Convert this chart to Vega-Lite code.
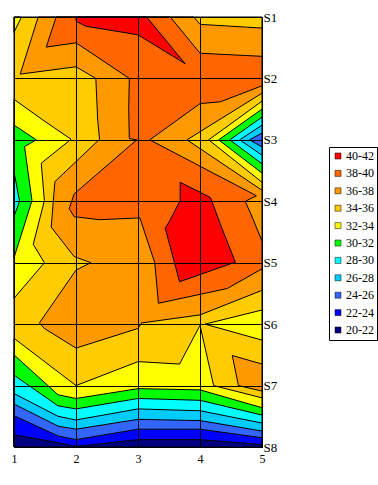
{
  "$schema": "https://vega.github.io/schema/vega-lite/v6.json",
  "width": 248,
  "height": 430,
  "autosize": "none",
  "padding": {"left": 14, "top": 17, "right": 116, "bottom": 38},
  "background": "white",
  "config": {"view": {"stroke": "black", "strokeWidth": 1}},
  "data": {"values": [
    {"band":"34-36","p":"base","i":0,"x":1,"y":1},{"band":"34-36","p":"base","i":1,"x":5,"y":1},{"band":"34-36","p":"base","i":2,"x":5,"y":8},{"band":"34-36","p":"base","i":3,"x":1,"y":8},{"band":"34-36","p":"base","i":4,"x":1,"y":1},

    {"band":"36-38","p":"o36a","i":0,"x":1.39,"y":1},{"band":"36-38","p":"o36a","i":1,"x":3.90,"y":1},{"band":"36-38","p":"o36a","i":2,"x":4.0,"y":1.12},{"band":"36-38","p":"o36a","i":3,"x":5,"y":1.18},{"band":"36-38","p":"o36a","i":4,"x":5,"y":2.24},{"band":"36-38","p":"o36a","i":5,"x":3.79,"y":3},{"band":"36-38","p":"o36a","i":6,"x":5,"y":3.82},{"band":"36-38","p":"o36a","i":7,"x":5,"y":5.45},{"band":"36-38","p":"o36a","i":8,"x":4.0,"y":5.85},{"band":"36-38","p":"o36a","i":9,"x":3.06,"y":5.98},{"band":"36-38","p":"o36a","i":10,"x":3.0,"y":6.07},{"band":"36-38","p":"o36a","i":11,"x":2.0,"y":6.39},{"band":"36-38","p":"o36a","i":12,"x":1.49,"y":6.07},{"band":"36-38","p":"o36a","i":13,"x":1.41,"y":5.98},{"band":"36-38","p":"o36a","i":14,"x":2.0,"y":5.12},{"band":"36-38","p":"o36a","i":15,"x":2.24,"y":5.0},{"band":"36-38","p":"o36a","i":16,"x":1.97,"y":4.90},{"band":"36-38","p":"o36a","i":17,"x":1.60,"y":4.42},{"band":"36-38","p":"o36a","i":18,"x":1.66,"y":3.68},{"band":"36-38","p":"o36a","i":19,"x":2.38,"y":2.99},{"band":"36-38","p":"o36a","i":20,"x":2.35,"y":2.68},{"band":"36-38","p":"o36a","i":21,"x":2.32,"y":2.0},{"band":"36-38","p":"o36a","i":22,"x":2.0,"y":1.81},{"band":"36-38","p":"o36a","i":23,"x":1.10,"y":1.93},{"band":"36-38","p":"o36a","i":24,"x":1.39,"y":1},
    {"band":"36-38","p":"o36b","i":0,"x":4.52,"y":6.51},{"band":"36-38","p":"o36b","i":1,"x":5,"y":6.65},{"band":"36-38","p":"o36b","i":2,"x":5,"y":7.09},{"band":"36-38","p":"o36b","i":3,"x":4.62,"y":7.0},{"band":"36-38","p":"o36b","i":4,"x":4.52,"y":6.51},

    {"band":"38-40","p":"o38","i":0,"x":1.68,"y":1},{"band":"38-40","p":"o38","i":1,"x":3.52,"y":1},{"band":"38-40","p":"o38","i":2,"x":4.0,"y":1.59},{"band":"38-40","p":"o38","i":3,"x":5,"y":1.64},{"band":"38-40","p":"o38","i":4,"x":5,"y":2.12},{"band":"38-40","p":"o38","i":5,"x":4.33,"y":2.38},{"band":"38-40","p":"o38","i":6,"x":4.0,"y":2.41},{"band":"38-40","p":"o38","i":7,"x":3.19,"y":3.0},{"band":"38-40","p":"o38","i":8,"x":4.91,"y":3.91},{"band":"38-40","p":"o38","i":9,"x":4.73,"y":4.0},{"band":"38-40","p":"o38","i":10,"x":4.86,"y":4.30},{"band":"38-40","p":"o38","i":11,"x":5,"y":4.65},{"band":"38-40","p":"o38","i":12,"x":5,"y":5.10},{"band":"38-40","p":"o38","i":13,"x":4.44,"y":5.42},{"band":"38-40","p":"o38","i":14,"x":3.33,"y":5.66},{"band":"38-40","p":"o38","i":15,"x":3.27,"y":5.0},{"band":"38-40","p":"o38","i":16,"x":3.03,"y":4.27},{"band":"38-40","p":"o38","i":17,"x":2.38,"y":4.30},{"band":"38-40","p":"o38","i":18,"x":1.97,"y":4.25},{"band":"38-40","p":"o38","i":19,"x":1.89,"y":4.12},{"band":"38-40","p":"o38","i":20,"x":1.97,"y":3.88},{"band":"38-40","p":"o38","i":21,"x":2.98,"y":3.0},{"band":"38-40","p":"o38","i":22,"x":2.86,"y":2.98},{"band":"38-40","p":"o38","i":23,"x":2.85,"y":2.51},{"band":"38-40","p":"o38","i":24,"x":2.86,"y":2.0},{"band":"38-40","p":"o38","i":25,"x":2.0,"y":1.42},{"band":"38-40","p":"o38","i":26,"x":1.52,"y":1.49},{"band":"38-40","p":"o38","i":27,"x":1.68,"y":1},

    {"band":"40-42","p":"r1","i":0,"x":2.0,"y":1},{"band":"40-42","p":"r1","i":1,"x":3.14,"y":1},{"band":"40-42","p":"r1","i":2,"x":3.76,"y":1.76},{"band":"40-42","p":"r1","i":3,"x":3.0,"y":1.29},{"band":"40-42","p":"r1","i":4,"x":2.16,"y":1.15},{"band":"40-42","p":"r1","i":5,"x":2.0,"y":1.07},{"band":"40-42","p":"r1","i":6,"x":2.0,"y":1},
    {"band":"40-42","p":"r2","i":0,"x":3.68,"y":3.69},{"band":"40-42","p":"r2","i":1,"x":4.17,"y":3.94},{"band":"40-42","p":"r2","i":2,"x":4.33,"y":4.38},{"band":"40-42","p":"r2","i":3,"x":4.57,"y":4.99},{"band":"40-42","p":"r2","i":4,"x":3.67,"y":5.31},{"band":"40-42","p":"r2","i":5,"x":3.44,"y":4.44},{"band":"40-42","p":"r2","i":6,"x":3.52,"y":4.30},{"band":"40-42","p":"r2","i":7,"x":3.68,"y":3.99},{"band":"40-42","p":"r2","i":8,"x":3.68,"y":3.69},

    {"band":"32-34","p":"ya","i":0,"x":1,"y":1},{"band":"32-34","p":"ya","i":1,"x":1.12,"y":1},{"band":"32-34","p":"ya","i":2,"x":1,"y":1.25},{"band":"32-34","p":"ya","i":3,"x":1,"y":1},
    {"band":"32-34","p":"yb","i":0,"x":1,"y":2.34},{"band":"32-34","p":"yb","i":1,"x":1.47,"y":2.68},{"band":"32-34","p":"yb","i":2,"x":1.92,"y":2.99},{"band":"32-34","p":"yb","i":3,"x":1.44,"y":3.38},{"band":"32-34","p":"yb","i":4,"x":1.49,"y":3.99},{"band":"32-34","p":"yb","i":5,"x":1.31,"y":4.70},{"band":"32-34","p":"yb","i":6,"x":1.49,"y":5.0},{"band":"32-34","p":"yb","i":7,"x":1,"y":5.58},{"band":"32-34","p":"yb","i":8,"x":1,"y":2.34},
    {"band":"32-34","p":"yc1","i":0,"x":4.08,"y":6.0},{"band":"32-34","p":"yc1","i":1,"x":5,"y":5.77},{"band":"32-34","p":"yc1","i":2,"x":5,"y":6.26},{"band":"32-34","p":"yc1","i":3,"x":4.08,"y":6.0},
    {"band":"32-34","p":"yc2","i":0,"x":1,"y":6.23},{"band":"32-34","p":"yc2","i":1,"x":2.0,"y":7.0},{"band":"32-34","p":"yc2","i":2,"x":3.0,"y":6.61},{"band":"32-34","p":"yc2","i":3,"x":3.67,"y":6.65},{"band":"32-34","p":"yc2","i":4,"x":4.0,"y":6.02},{"band":"32-34","p":"yc2","i":5,"x":4.22,"y":7.0},{"band":"32-34","p":"yc2","i":6,"x":5,"y":7.2},{"band":"32-34","p":"yc2","i":7,"x":5,"y":8},{"band":"32-34","p":"yc2","i":8,"x":1,"y":8},{"band":"32-34","p":"yc2","i":9,"x":1,"y":6.23},
    {"band":"32-34","p":"yd","i":0,"x":4.14,"y":3.0},{"band":"32-34","p":"yd","i":1,"x":5,"y":2.37},{"band":"32-34","p":"yd","i":2,"x":5,"y":3.69},{"band":"32-34","p":"yd","i":3,"x":4.14,"y":3.0},

    {"band":"30-32","p":"ga","i":0,"x":1,"y":2.76},{"band":"30-32","p":"ga","i":1,"x":1.36,"y":3.0},{"band":"30-32","p":"ga","i":2,"x":1.17,"y":3.11},{"band":"30-32","p":"ga","i":3,"x":1.29,"y":3.99},{"band":"30-32","p":"ga","i":4,"x":1,"y":4.92},{"band":"30-32","p":"ga","i":5,"x":1,"y":2.76},
    {"band":"30-32","p":"gb","i":0,"x":4.30,"y":3.0},{"band":"30-32","p":"gb","i":1,"x":5,"y":2.50},{"band":"30-32","p":"gb","i":2,"x":5,"y":3.54},{"band":"30-32","p":"gb","i":3,"x":4.30,"y":3.0},
    {"band":"30-32","p":"gc","i":0,"x":1,"y":6.50},{"band":"30-32","p":"gc","i":1,"x":1.71,"y":7.15},{"band":"30-32","p":"gc","i":2,"x":2.0,"y":7.21},{"band":"30-32","p":"gc","i":3,"x":3.0,"y":7.05},{"band":"30-32","p":"gc","i":4,"x":4.0,"y":7.07},{"band":"30-32","p":"gc","i":5,"x":5,"y":7.36},{"band":"30-32","p":"gc","i":6,"x":5,"y":8},{"band":"30-32","p":"gc","i":7,"x":1,"y":8},{"band":"30-32","p":"gc","i":8,"x":1,"y":6.50},

    {"band":"28-30","p":"ca","i":0,"x":1,"y":3.52},{"band":"28-30","p":"ca","i":1,"x":1.09,"y":4.0},{"band":"28-30","p":"ca","i":2,"x":1,"y":4.25},{"band":"28-30","p":"ca","i":3,"x":1,"y":3.52},
    {"band":"28-30","p":"cb","i":0,"x":4.48,"y":3.0},{"band":"28-30","p":"cb","i":1,"x":5,"y":2.63},{"band":"28-30","p":"cb","i":2,"x":5,"y":3.39},{"band":"28-30","p":"cb","i":3,"x":4.48,"y":3.0},
    {"band":"28-30","p":"cc","i":0,"x":1,"y":6.83},{"band":"28-30","p":"cc","i":1,"x":1.71,"y":7.33},{"band":"28-30","p":"cc","i":2,"x":2.0,"y":7.38},{"band":"28-30","p":"cc","i":3,"x":3.0,"y":7.21},{"band":"28-30","p":"cc","i":4,"x":4.0,"y":7.24},{"band":"28-30","p":"cc","i":5,"x":5,"y":7.48},{"band":"28-30","p":"cc","i":6,"x":5,"y":8},{"band":"28-30","p":"cc","i":7,"x":1,"y":8},{"band":"28-30","p":"cc","i":8,"x":1,"y":6.83},

    {"band":"26-28","p":"db","i":0,"x":4.64,"y":3.0},{"band":"26-28","p":"db","i":1,"x":5,"y":2.76},{"band":"26-28","p":"db","i":2,"x":5,"y":3.25},{"band":"26-28","p":"db","i":3,"x":4.64,"y":3.0},
    {"band":"26-28","p":"dc","i":0,"x":1,"y":7.13},{"band":"26-28","p":"dc","i":1,"x":1.71,"y":7.50},{"band":"26-28","p":"dc","i":2,"x":2.0,"y":7.56},{"band":"26-28","p":"dc","i":3,"x":3.0,"y":7.38},{"band":"26-28","p":"dc","i":4,"x":4.0,"y":7.41},{"band":"26-28","p":"dc","i":5,"x":5,"y":7.61},{"band":"26-28","p":"dc","i":6,"x":5,"y":8},{"band":"26-28","p":"dc","i":7,"x":1,"y":8},{"band":"26-28","p":"dc","i":8,"x":1,"y":7.13},

    {"band":"24-26","p":"eb","i":0,"x":4.80,"y":3.0},{"band":"24-26","p":"eb","i":1,"x":5,"y":2.89},{"band":"24-26","p":"eb","i":2,"x":5,"y":3.115},{"band":"24-26","p":"eb","i":3,"x":4.80,"y":3.0},
    {"band":"24-26","p":"ec","i":0,"x":1,"y":7.30},{"band":"24-26","p":"ec","i":1,"x":1.71,"y":7.66},{"band":"24-26","p":"ec","i":2,"x":2.0,"y":7.71},{"band":"24-26","p":"ec","i":3,"x":3.0,"y":7.55},{"band":"24-26","p":"ec","i":4,"x":4.0,"y":7.57},{"band":"24-26","p":"ec","i":5,"x":5,"y":7.74},{"band":"24-26","p":"ec","i":6,"x":5,"y":8},{"band":"24-26","p":"ec","i":7,"x":1,"y":8},{"band":"24-26","p":"ec","i":8,"x":1,"y":7.30},

    {"band":"22-24","p":"fc","i":0,"x":1,"y":7.49},{"band":"22-24","p":"fc","i":1,"x":1.71,"y":7.82},{"band":"22-24","p":"fc","i":2,"x":2.0,"y":7.88},{"band":"22-24","p":"fc","i":3,"x":3.0,"y":7.71},{"band":"22-24","p":"fc","i":4,"x":4.0,"y":7.71},{"band":"22-24","p":"fc","i":5,"x":5,"y":7.85},{"band":"22-24","p":"fc","i":6,"x":5,"y":8},{"band":"22-24","p":"fc","i":7,"x":1,"y":8},{"band":"22-24","p":"fc","i":8,"x":1,"y":7.49},

    {"band":"20-22","p":"hc","i":0,"x":1,"y":7.80},{"band":"20-22","p":"hc","i":1,"x":1.71,"y":7.93},{"band":"20-22","p":"hc","i":2,"x":2.0,"y":7.99},{"band":"20-22","p":"hc","i":3,"x":3.0,"y":7.88},{"band":"20-22","p":"hc","i":4,"x":4.0,"y":7.88},{"band":"20-22","p":"hc","i":5,"x":5,"y":7.96},{"band":"20-22","p":"hc","i":6,"x":5,"y":8},{"band":"20-22","p":"hc","i":7,"x":1,"y":8},{"band":"20-22","p":"hc","i":8,"x":1,"y":7.80}
  ]},
  "encoding": {
    "x": {"field": "x", "type": "quantitative",
      "scale": {"domain": [1, 5], "nice": false, "zero": false},
      "axis": {"title": null, "values": [1, 2, 3, 4, 5], "format": "d", "grid": true, "gridColor": "black", "gridOpacity": 1, "gridWidth": 1, "ticks": false, "tickSize": 0, "domain": false, "labelFont": "Liberation Serif", "labelFontSize": 12, "labelColor": "black", "labelPadding": 6, "labelFlush": false, "zindex": 1}},
    "y": {"field": "y", "type": "quantitative",
      "scale": {"domain": [1, 8], "nice": false, "zero": false, "reverse": true},
      "axis": {"title": null, "orient": "right", "values": [1, 2, 3, 4, 5, 6, 7, 8], "labelExpr": "'S' + datum.value", "grid": true, "gridColor": "black", "gridOpacity": 1, "gridWidth": 1, "ticks": false, "tickSize": 0, "domain": false, "labelFont": "Liberation Serif", "labelFontSize": 13, "labelColor": "black", "labelPadding": 1, "labelAlign": "left", "labelBaseline": "middle", "labelFlush": false, "zindex": 1}},
    "fill": {"field": "band", "type": "nominal",
      "scale": {"domain": ["40-42", "38-40", "36-38", "34-36", "32-34", "30-32", "28-30", "26-28", "24-26", "22-24", "20-22"],
                "range": ["#FF0000", "#FF6600", "#FF9900", "#FFCC00", "#FFFF00", "#00FF00", "#00FFFF", "#00CCFF", "#3366FF", "#0000FF", "#000080"]},
      "legend": {"title": null, "orient": "none", "legendX": 315, "legendY": 130, "symbolType": "square", "symbolSize": 36, "symbolStrokeColor": "black", "symbolStrokeWidth": 0.5, "symbolOpacity": 1, "labelFont": "Liberation Serif", "labelFontSize": 12, "labelColor": "black", "strokeColor": "black", "fillColor": "white", "padding": 3, "rowPadding": 5.4, "labelOffset": 2}},
    "detail": {"field": "p"},
    "order": {"field": "i", "type": "quantitative"}
  },
  "layer": [
    {"transform": [{"filter": "datum.band == '34-36'"}], "mark": {"type": "line", "stroke": "black", "strokeWidth": 1}},
    {"transform": [{"filter": "datum.band == '36-38'"}], "mark": {"type": "line", "stroke": "black", "strokeWidth": 1}},
    {"transform": [{"filter": "datum.band == '38-40'"}], "mark": {"type": "line", "stroke": "black", "strokeWidth": 1}},
    {"transform": [{"filter": "datum.band == '40-42'"}], "mark": {"type": "line", "stroke": "black", "strokeWidth": 1}},
    {"transform": [{"filter": "datum.band == '32-34'"}], "mark": {"type": "line", "stroke": "black", "strokeWidth": 1}},
    {"transform": [{"filter": "datum.band == '30-32'"}], "mark": {"type": "line", "stroke": "black", "strokeWidth": 1}},
    {"transform": [{"filter": "datum.band == '28-30'"}], "mark": {"type": "line", "stroke": "black", "strokeWidth": 1}},
    {"transform": [{"filter": "datum.band == '26-28'"}], "mark": {"type": "line", "stroke": "black", "strokeWidth": 1}},
    {"transform": [{"filter": "datum.band == '24-26'"}], "mark": {"type": "line", "stroke": "black", "strokeWidth": 1}},
    {"transform": [{"filter": "datum.band == '22-24'"}], "mark": {"type": "line", "stroke": "black", "strokeWidth": 1}},
    {"transform": [{"filter": "datum.band == '20-22'"}], "mark": {"type": "line", "stroke": "black", "strokeWidth": 1}}
  ]
}
